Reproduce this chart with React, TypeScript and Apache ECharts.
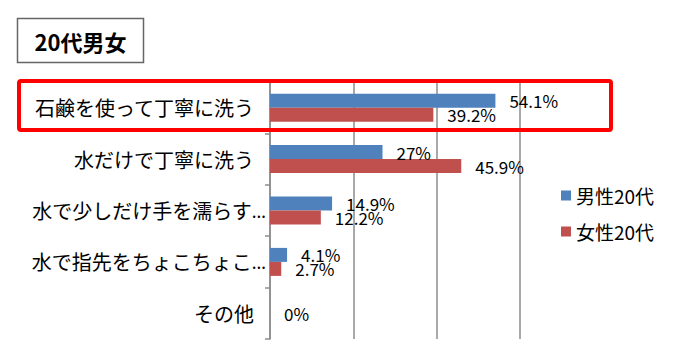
import React, { useEffect, useRef } from "react";
import * as echarts from "echarts";

const categories = [
  "石鹸を使って丁寧に洗う",
  "水だけで丁寧に洗う",
  "水で少しだけ手を濡らす…",
  "水で指先をちょこちょこ…",
  "その他",
];
const seriesNames = ["男性20代", "女性20代"];
const maleValues = [54.1, 27, 14.9, 4.1, 0];
const femaleValues = [39.2, 45.9, 12.2, 2.7, 0];
const xTicks = { min: 0, max: 60, interval: 20 };
const titleText = "20代男女";

const FONT = "'Noto Sans CJK JP', 'Noto Sans', sans-serif";

export default function App() {
  const ref = useRef<HTMLDivElement>(null);
  useEffect(() => {
    if (!ref.current) return;
    const chart = echarts.init(ref.current, undefined, { renderer: "svg" });
    const labelBase = {
      show: true,
      position: "right",
      distance: 14,
      fontSize: 17,
      color: "#000",
      fontFamily: FONT,
      formatter: "{c}%",
    };
    chart.setOption({
      animation: false,
      backgroundColor: "#fff",
      textStyle: { fontFamily: FONT },
      grid: { left: 270, right: 161, top: 82, bottom: 13 },
      xAxis: {
        type: "value",
        min: xTicks.min,
        max: xTicks.max,
        interval: xTicks.interval,
        axisLabel: { show: false },
        axisLine: { show: false },
        axisTick: { show: false },
        splitLine: { show: true, lineStyle: { color: "#8c8c8c", width: 1.5 } },
      },
      yAxis: {
        type: "category",
        data: categories,
        inverse: true,
        axisLine: { show: true, lineStyle: { color: "#8c8c8c", width: 1.5 } },
        axisTick: { show: true, inside: false, length: 5, lineStyle: { color: "#8c8c8c", width: 1.5 } },
        axisLabel: {
          fontSize: 20,
          color: "#000",
          margin: 4,
          fontFamily: FONT,
          formatter: (v: string) =>
            v.endsWith("…")
              ? `{t|${v.slice(0, -1)}}{e|…}`
              : `{t|${v}}{s| }`,
          rich: {
            t: { fontSize: 20, color: "#000", fontFamily: FONT },
            e: { fontSize: 18, color: "#000", fontFamily: "'Noto Sans', sans-serif" },
            s: { fontSize: 20, width: 12 },
          },
        },
      },
      legend: {
        orient: "vertical",
        left: 556,
        top: 181,
        itemWidth: 10,
        itemHeight: 10,
        itemGap: 17,
        icon: "rect",
        textStyle: { fontSize: 19, color: "#000", fontFamily: FONT },
        data: seriesNames,
      },
      series: [
        {
          name: seriesNames[0],
          type: "bar",
          barWidth: 14,
          barGap: "0%",
          itemStyle: { color: "#4F81BD" },
          label: labelBase,
          data: maleValues.map((v, i) =>
            i === maleValues.length - 1
              ? { value: v, label: { offset: [0, 7] } }
              : v
          ),
        },
        {
          name: seriesNames[1],
          type: "bar",
          barWidth: 14,
          barGap: "0%",
          itemStyle: { color: "#C0504D" },
          label: labelBase,
          data: femaleValues.map((v, i) =>
            i === femaleValues.length - 1 ? { value: v, label: { show: false } } : v
          ),
        },
      ],
      graphic: [
        {
          type: "rect",
          shape: { x: 17.5, y: 18.5, width: 126, height: 44 },
          style: { fill: "#fff", stroke: "#666", lineWidth: 1.5 },
          z: 10,
        },
        {
          type: "text",
          x: 80.5,
          y: 41,
          style: {
            text: titleText,
            fontSize: 22,
            fontWeight: "bold",
            fill: "#000",
            fontFamily: FONT,
            align: "center",
            verticalAlign: "middle",
          },
          z: 11,
        },
        {
          type: "rect",
          shape: { x: 19, y: 81, width: 592, height: 49, r: 2 },
          style: { fill: "none", stroke: "#ff0000", lineWidth: 4 },
          z: 12,
        },
      ],
    });
    return () => chart.dispose();
  }, []);
  return (
    <div
      ref={ref}
      style={{ position: "fixed", left: 0, top: 0, width: 681, height: 352 }}
    />
  );
}
